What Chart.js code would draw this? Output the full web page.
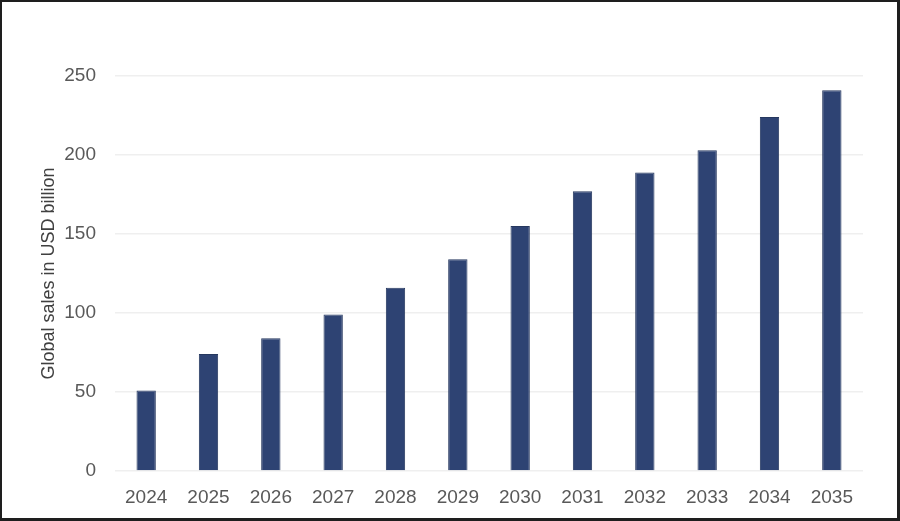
<!DOCTYPE html>
<html>
<head>
<meta charset="utf-8">
<script src="https://cdn.jsdelivr.net/npm/chart.js@4.4.1/dist/chart.umd.min.js"></script>
<style>
    html, body { margin: 0; padding: 0; background: #fff; }
    #frame {
        width: 900px; height: 521px;
        box-sizing: border-box;
        border-style: solid;
        border-color: #1e1e1e;
        border-width: 2px 3px 3px 2px;
        background: #fff;
    }
    #wrap { position: relative; width: 895px; height: 516px; }
</style>
</head>
<body>
<div id="frame"><div id="wrap"><canvas id="mainChart"></canvas></div></div>
<script>
// --- data ---
const years = ['2024', '2025', '2026', '2027', '2028', '2029', '2030', '2031', '2032', '2033', '2034', '2035'];
const sales = [51, 74, 84, 99, 116, 134, 155, 177, 189, 203, 224, 241];
const yTicks = [0, 50, 100, 150, 200, 250];

const TEXT_FONT = "'Liberation Sans', Arial, sans-serif";

function initChart() {
    const ctx = document.getElementById('mainChart').getContext('2d');

    new Chart(ctx, {
        type: 'bar',
        data: {
            labels: years,
            datasets: [{
                label: 'Global sales',
                data: sales,
                backgroundColor: '#2e4373',
                borderColor: '#26385f',
                borderWidth: 1,
                barPercentage: 0.31,
                categoryPercentage: 1
            }]
        },
        options: {
            responsive: true,
            maintainAspectRatio: false,
            animation: false,
            layout: {
                padding: { left: 32, right: 34, top: 74, bottom: 9 }
            },
            plugins: {
                legend: { display: false },
                tooltip: { enabled: false }
            },
            scales: {
                x: {
                    afterFit: (scale) => { scale.height = 38; }, // plot ends at y=469
                    grid: { display: false, drawTicks: false },
                    border: { display: false },
                    ticks: {
                        color: '#595959',
                        padding: 15,
                        maxRotation: 0,
                        font: { family: TEXT_FONT, size: 19 }
                    }
                },
                y: {
                    min: 0,
                    max: yTicks[yTicks.length - 1],
                    afterBuildTicks: (scale) => {
                        scale.ticks = yTicks.map(v => ({ value: v }));
                    },
                    afterFit: (scale) => { scale.width = 81; }, // plot starts at x=113
                    grid: { color: '#efefef', lineWidth: 1.5, drawTicks: false },
                    border: { display: false },
                    ticks: {
                        color: '#595959',
                        padding: 19,
                        font: { family: TEXT_FONT, size: 19 }
                    },
                    title: {
                        display: true,
                        text: 'Global sales in USD billion',
                        color: '#404040',
                        font: { family: TEXT_FONT, size: 18 }
                    }
                }
            }
        }
    });
}

document.addEventListener('DOMContentLoaded', initChart);
</script>
</body>
</html>
